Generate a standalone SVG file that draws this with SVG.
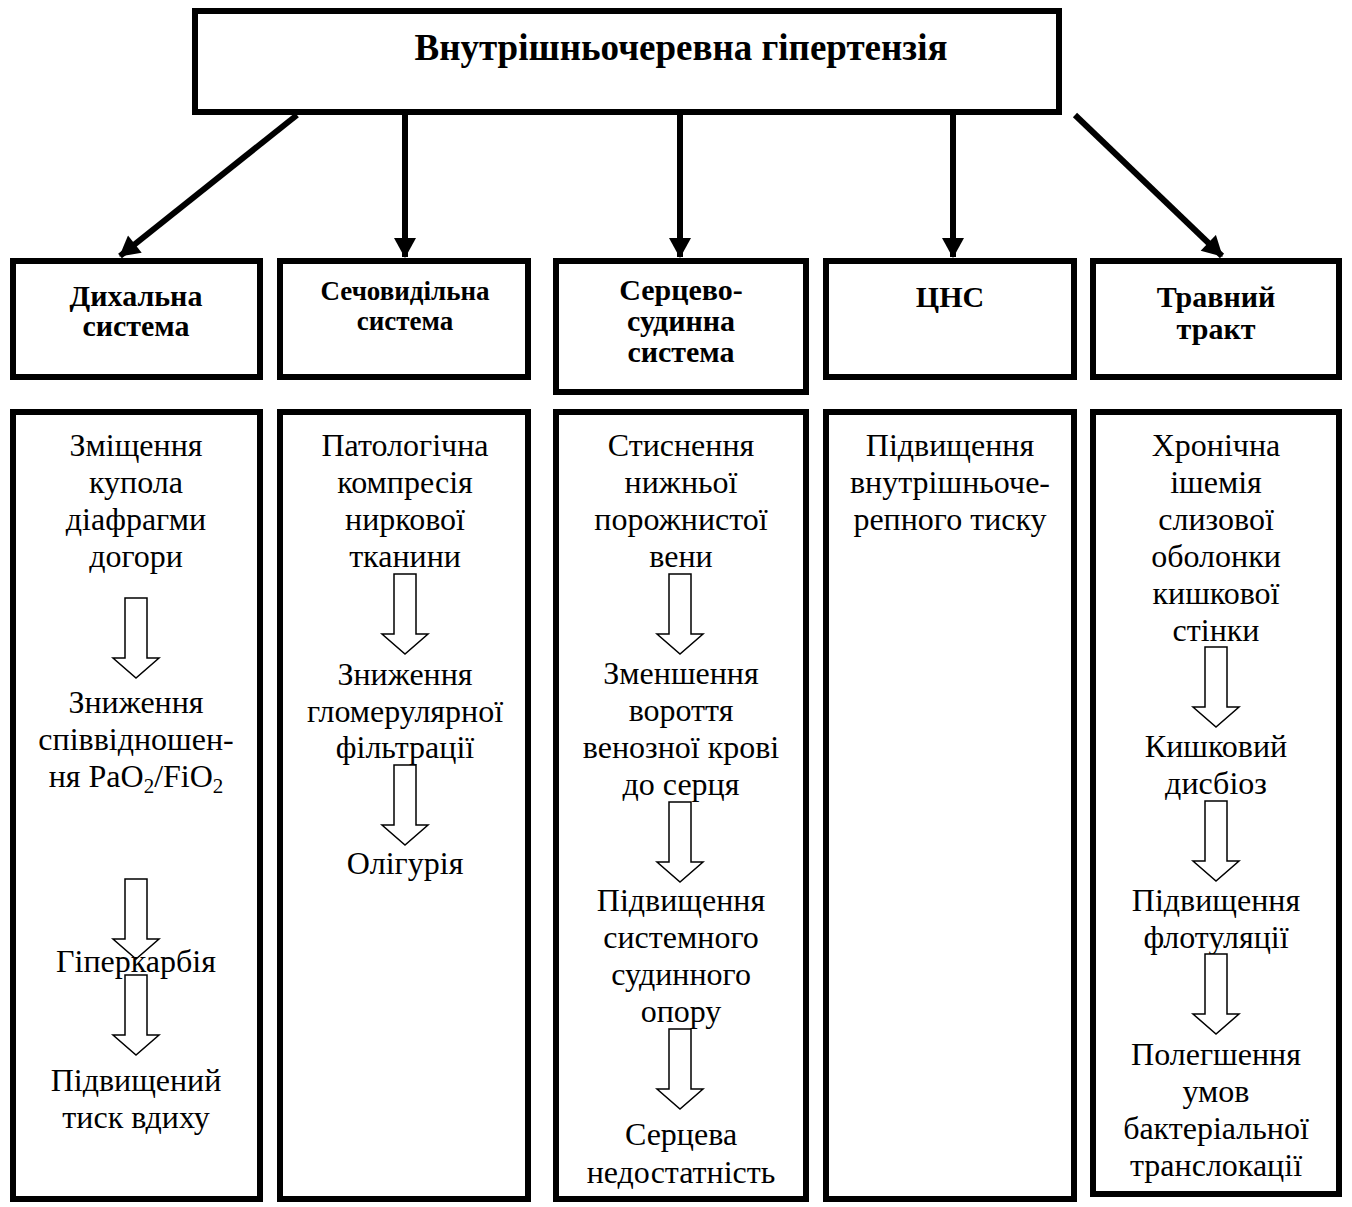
<svg xmlns="http://www.w3.org/2000/svg" width="1352" height="1207" viewBox="0 0 1352 1207">
<style>
.box{fill:#fff;stroke:#000;stroke-width:6}
.t{font-family:"Liberation Serif","Times New Roman",serif;fill:#000;text-anchor:middle}
.b{font-weight:bold}
.h{font-size:30px}
.c{font-size:32px}
.conn{stroke:#000;stroke-width:6;fill:none}
.ha{fill:#fff;stroke:#000;stroke-width:1.5}
</style>
<defs>
<marker id="ah" markerUnits="userSpaceOnUse" markerWidth="22" markerHeight="22" viewBox="0 0 20 22" refX="19" refY="11" orient="auto">
<path d="M0,0 L20,11 L0,22 Z" fill="#000"/>
</marker>
<path id="hollow" d="M-11,0 H11 V60 H23 L0,80 L-23,60 H-11 Z"/>
</defs>

<g id="top">
<rect class="box" x="195" y="11" width="864" height="101"/>
<text class="t b" x="681" y="60" font-size="37">Внутрішньочеревна гіпертензія</text>
</g>

<g id="connectors">
<line class="conn" x1="297" y1="115" x2="120" y2="256" marker-end="url(#ah)"/>
<line class="conn" x1="405" y1="115" x2="405" y2="257" marker-end="url(#ah)"/>
<line class="conn" x1="680" y1="115" x2="680" y2="257" marker-end="url(#ah)"/>
<line class="conn" x1="953" y1="115" x2="953" y2="257" marker-end="url(#ah)"/>
<line class="conn" x1="1075" y1="115" x2="1222" y2="256" marker-end="url(#ah)"/>
</g>

<g id="h1">
<rect class="box" x="13" y="261" width="247" height="116"/>
<text class="t b h" x="136" y="306">Дихальна</text>
<text class="t b h" x="136" y="336">система</text>
</g>
<g id="h2">
<rect class="box" x="280" y="261" width="248" height="116"/>
<text class="t b" x="405" y="300" font-size="27">Сечовидільна</text>
<text class="t b" x="405" y="330" font-size="27">система</text>
</g>
<g id="h3">
<rect class="box" x="556" y="261" width="250" height="131"/>
<text class="t b h" x="681" y="300">Серцево-</text>
<text class="t b h" x="681" y="331">судинна</text>
<text class="t b h" x="681" y="362">система</text>
</g>
<g id="h4">
<rect class="box" x="826" y="261" width="248" height="116"/>
<text class="t b h" x="950" y="307">ЦНС</text>
</g>
<g id="h5">
<rect class="box" x="1093" y="261" width="246" height="116"/>
<text class="t b h" x="1216" y="307">Травний</text>
<text class="t b h" x="1216" y="339">тракт</text>
</g>

<g id="c1">
<rect class="box" x="13" y="412" width="247" height="787"/>
<text class="t c" x="136" y="456">Зміщення</text>
<text class="t c" x="136" y="493">купола</text>
<text class="t c" x="136" y="530">діафрагми</text>
<text class="t c" x="136" y="567">догори</text>
<use href="#hollow" class="ha" x="136" y="598"/>
<text class="t c" x="136" y="713">Зниження</text>
<text class="t c" x="136" y="750">співвідношен-</text>
<text class="t c" x="136" y="787">ня PaO<tspan font-size="21" dy="6">2</tspan><tspan dy="-6">/FiO</tspan><tspan font-size="21" dy="6">2</tspan></text>
<use href="#hollow" class="ha" x="136" y="879"/>
<text class="t c" x="136" y="972">Гіперкарбія</text>
<use href="#hollow" class="ha" x="136" y="975"/>
<text class="t c" x="136" y="1091">Підвищений</text>
<text class="t c" x="136" y="1128">тиск вдиху</text>
</g>

<g id="c2">
<rect class="box" x="280" y="412" width="248" height="787"/>
<text class="t c" x="405" y="456">Патологічна</text>
<text class="t c" x="405" y="493">компресія</text>
<text class="t c" x="405" y="530">ниркової</text>
<text class="t c" x="405" y="567">тканини</text>
<use href="#hollow" class="ha" x="405" y="574"/>
<text class="t c" x="405" y="685">Зниження</text>
<text class="t c" x="405" y="722">гломерулярної</text>
<text class="t c" x="405" y="758">фільтрації</text>
<use href="#hollow" class="ha" x="405" y="765"/>
<text class="t c" x="405" y="874">Олігурія</text>
</g>

<g id="c3">
<rect class="box" x="556" y="412" width="250" height="787"/>
<text class="t c" x="681" y="456">Стиснення</text>
<text class="t c" x="681" y="493">нижньої</text>
<text class="t c" x="681" y="530">порожнистої</text>
<text class="t c" x="681" y="567">вени</text>
<use href="#hollow" class="ha" x="680" y="574"/>
<text class="t c" x="681" y="684">Зменшення</text>
<text class="t c" x="681" y="721">вороття</text>
<text class="t c" x="681" y="758">венозної крові</text>
<text class="t c" x="681" y="795">до серця</text>
<use href="#hollow" class="ha" x="680" y="802"/>
<text class="t c" x="681" y="911">Підвищення</text>
<text class="t c" x="681" y="948">системного</text>
<text class="t c" x="681" y="985">судинного</text>
<text class="t c" x="681" y="1022">опору</text>
<use href="#hollow" class="ha" x="680" y="1029"/>
<text class="t c" x="681" y="1145">Серцева</text>
<text class="t c" x="681" y="1183">недостатність</text>
</g>

<g id="c4">
<rect class="box" x="826" y="412" width="248" height="787"/>
<text class="t c" x="950" y="456">Підвищення</text>
<text class="t c" x="950" y="493">внутрішньоче-</text>
<text class="t c" x="950" y="530">репного тиску</text>
</g>

<g id="c5">
<rect class="box" x="1093" y="412" width="246" height="782"/>
<text class="t c" x="1216" y="456">Хронічна</text>
<text class="t c" x="1216" y="493">ішемія</text>
<text class="t c" x="1216" y="530">слизової</text>
<text class="t c" x="1216" y="567">оболонки</text>
<text class="t c" x="1216" y="604">кишкової</text>
<text class="t c" x="1216" y="641">стінки</text>
<use href="#hollow" class="ha" x="1216" y="647"/>
<text class="t c" x="1216" y="757">Кишковий</text>
<text class="t c" x="1216" y="794">дисбіоз</text>
<use href="#hollow" class="ha" x="1216" y="801"/>
<text class="t c" x="1216" y="911">Підвищення</text>
<text class="t c" x="1216" y="948">флотуляції</text>
<use href="#hollow" class="ha" x="1216" y="954"/>
<text class="t c" x="1216" y="1065">Полегшення</text>
<text class="t c" x="1216" y="1102">умов</text>
<text class="t c" x="1216" y="1139">бактеріальної</text>
<text class="t c" x="1216" y="1176">транслокації</text>
</g>
</svg>
